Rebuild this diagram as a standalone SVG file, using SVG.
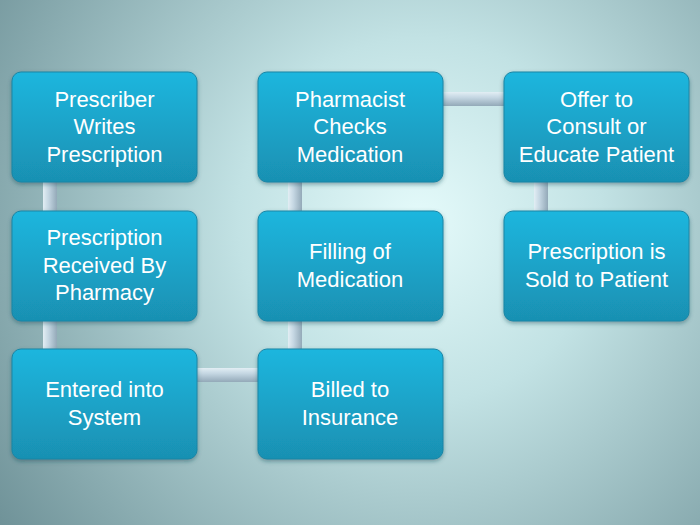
<svg xmlns="http://www.w3.org/2000/svg" width="700" height="525" viewBox="0 0 700 525">
<defs>
<radialGradient id="bg" cx="420" cy="220" r="520" gradientUnits="userSpaceOnUse">
<stop offset="0" stop-color="#e4fafa"/>
<stop offset="0.35" stop-color="#c2e2e4"/>
<stop offset="1" stop-color="#6f9298"/>
</radialGradient>
<linearGradient id="box" x1="0" y1="0" x2="0" y2="1">
<stop offset="0" stop-color="#1eb6de"/>
<stop offset="1" stop-color="#1990b2"/>
</linearGradient>
<linearGradient id="vbar" x1="0" y1="0" x2="1" y2="0">
<stop offset="0" stop-color="#e2eef4"/>
<stop offset="0.4" stop-color="#c4d6e2"/>
<stop offset="1" stop-color="#93a9b8"/>
</linearGradient>
<linearGradient id="hbar" x1="0" y1="0" x2="0" y2="1">
<stop offset="0" stop-color="#e2eef4"/>
<stop offset="0.4" stop-color="#c4d6e2"/>
<stop offset="1" stop-color="#93a9b8"/>
</linearGradient>
<filter id="sh" x="-10%" y="-10%" width="120%" height="130%">
<feDropShadow dx="0" dy="2" stdDeviation="2" flood-color="#1a4a58" flood-opacity="0.45"/>
</filter>
</defs>
<style>
.node rect{fill:url(#box);stroke:#1a86a6;stroke-width:1;filter:url(#sh)}
.node text{fill:#ffffff;font-family:"Liberation Sans","Open Sans",Arial,sans-serif;font-size:22px;text-anchor:middle}
.vb{fill:url(#vbar)}
.hb{fill:url(#hbar)}
</style>
<rect width="700" height="525" fill="url(#bg)"/>
<g id="connectors">
<rect class="vb" x="43" y="178" width="14" height="175"/>
<rect class="hb" x="192" y="368" width="70" height="14"/>
<rect class="vb" x="288" y="178" width="14" height="175"/>
<rect class="hb" x="438" y="92" width="70" height="14"/>
<rect class="vb" x="534" y="178" width="14" height="37"/>
</g>
<g id="n1" class="node"><rect x="12" y="72" width="185" height="110" rx="9"/>
<text x="104.5" y="107">Prescriber</text><text x="104.5" y="134">Writes</text><text x="104.5" y="162">Prescription</text></g>
<g id="n2" class="node"><rect x="12" y="211" width="185" height="110" rx="9"/>
<text x="104.5" y="245">Prescription</text><text x="104.5" y="273">Received By</text><text x="104.5" y="300">Pharmacy</text></g>
<g id="n3" class="node"><rect x="12" y="349" width="185" height="110" rx="9"/>
<text x="104.5" y="397">Entered into</text><text x="104.5" y="425">System</text></g>
<g id="n4" class="node"><rect x="258" y="349" width="185" height="110" rx="9"/>
<text x="350" y="397">Billed to</text><text x="350" y="425">Insurance</text></g>
<g id="n5" class="node"><rect x="258" y="211" width="185" height="110" rx="9"/>
<text x="350" y="259">Filling of</text><text x="350" y="287">Medication</text></g>
<g id="n6" class="node"><rect x="258" y="72" width="185" height="110" rx="9"/>
<text x="350" y="107">Pharmacist</text><text x="350" y="134">Checks</text><text x="350" y="162">Medication</text></g>
<g id="n7" class="node"><rect x="504" y="72" width="185" height="110" rx="9"/>
<text x="596.5" y="107">Offer to</text><text x="596.5" y="134">Consult or</text><text x="596.5" y="162">Educate Patient</text></g>
<g id="n8" class="node"><rect x="504" y="211" width="185" height="110" rx="9"/>
<text x="596.5" y="259">Prescription is</text><text x="596.5" y="287">Sold to Patient</text></g>
</svg>
